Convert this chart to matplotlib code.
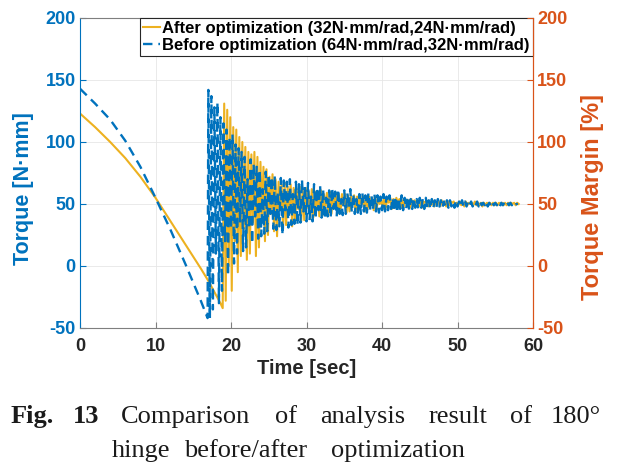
import numpy as np
import matplotlib
matplotlib.use("Agg")
import matplotlib.pyplot as plt

plt.rcParams.update({"font.family": "Liberation Sans", "font.weight": "bold",
                     "axes.unicode_minus": False})

C_BLUE = "#0072BD"; C_ORG = "#EDB120"; C_RED = "#D95319"; C_TXT = "#262626"
DT = 0.2  # sample spacing of the oscillating part [s]

# before optimization (64/32 N·mm/rad): slewing phase, then oscillation extrema
before_t = [0, 2, 4, 6, 8, 10, 12, 14, 16, 16.9]
before_v = [143, 131, 118, 101, 80, 55, 29, 1, -28, -42]
before_osc_t0 = 17.0
before_osc = [
    142, -42, 137, -35, 128, 10, 132, -30, 120, -20,
    115, 20, 110, -8, 104, 30, 106, 2, 98, 10,
    95, 35, 92, 12, 88, 15, 70, 30, 86, 18,
    82, 40, 80, 22, 78, 24, 62, 26, 76, 28,
    74, 42, 72, 30, 73, 29, 60, 32, 71, 25,
    69, 45, 68, 31, 70, 33, 58, 34, 68, 33,
    66, 35, 70, 44, 65, 36, 67, 37, 56, 36,
    66, 38, 63, 45, 65, 39, 62, 38, 55, 40,
    61, 39, 63, 46, 60, 40, 62, 42, 54, 41,
    61, 42, 59, 47, 62, 43, 58, 42, 54, 43,
    58, 42, 59, 44, 57, 43, 59, 44, 57, 45,
    58, 44, 57, 43, 56, 45, 58, 44, 56, 45,
    57, 46, 55, 44, 56, 43, 55, 46, 57, 45,
    55, 46, 56, 45, 54, 46, 55, 47, 54, 46,
    55, 47, 54, 46, 55, 47, 53, 46, 54, 47,
    53, 47, 54, 48, 53, 47, 52, 48, 53, 47,
    53, 48, 52, 47, 53, 48, 52, 48, 53, 48,
    52, 48, 52, 49, 52, 48, 51, 49, 52, 48,
    52, 49, 51, 49, 52, 48, 51, 49, 52, 49,
    51, 49, 51, 48, 51, 49, 51, 49, 51, 49,
    51, 49, 51, 49, 50, 50,
]

# after optimization (32/24 N·mm/rad)
after_t = [0, 2, 4, 6, 8, 10, 12, 14, 16, 17, 18.6]
after_v = [123, 112, 100, 87, 72, 55, 36, 17, -2, -12, -30]
after_osc_t0 = 18.9
after_osc = [
    -34, 131, -28, 126, 0, 120, -20, 112, 20, 110,
    -5, 104, 8, 100, 30, 96, 5, 92, 10, 90,
    35, 92, 8, 88, 15, 84, 40, 80, 20, 78,
    25, 72, 42, 74, 28, 70, 24, 68, 45, 66,
    30, 67, 33, 64, 46, 66, 32, 63, 35, 62,
    46, 64, 36, 61, 37, 63, 47, 60, 38, 62,
    39, 60, 48, 59, 40, 61, 41, 58, 48, 59,
    41, 60, 42, 58, 49, 59, 42, 57, 43, 58,
    49, 58, 43, 57, 44, 56, 50, 57, 44, 56,
    45, 57, 50, 56, 44, 55, 46, 56, 50, 55,
    45, 56, 46, 55, 50, 54, 46, 55, 47, 54,
    51, 55, 46, 54, 47, 55, 51, 54, 47, 53,
    48, 54, 51, 53, 47, 54, 48, 53, 51, 53,
    48, 53, 47, 52, 51, 53, 48, 52, 49, 53,
    48, 52, 51, 52, 48, 53, 49, 52, 48, 52,
    49, 52, 51, 52, 48, 51, 49, 52, 49, 51,
    48, 52, 49, 51, 50, 51, 49, 52, 49, 51,
    49, 51, 48, 51, 49, 51, 50, 51, 49, 51,
    49, 51, 49, 51, 50, 51, 49, 51, 49, 51,
    49, 51, 50, 51, 49, 51, 50,
]

yticks = [-50, 0, 50, 100, 150, 200]
xticks = [0, 10, 20, 30, 40, 50, 60]

def series(t, v, t0, osc):
    tt = np.concatenate([t, t0 + DT * np.arange(len(osc))])
    return tt, np.concatenate([v, osc])

ta, va = series(after_t, after_v, after_osc_t0, after_osc)
tb, vb = series(before_t, before_v, before_osc_t0, before_osc)

W, H = 622, 467
fig = plt.figure(figsize=(W / 100, H / 100), dpi=100)
ax = fig.add_axes([80 / W, 1 - 328 / H, 453 / W, 310 / H])

ax.plot(ta, va, color=C_ORG, lw=1.5, label="After optimization (32N·mm/rad,24N·mm/rad)")
ax.plot(tb, vb, color=C_BLUE, lw=1.7, ls=(0, (4, 2.5)),
        label="Before optimization (64N·mm/rad,32N·mm/rad)")

ax.set_xlim(0, 60); ax.set_ylim(-50, 200)
ax.set_xticks(xticks); ax.set_yticks(yticks)
ax.grid(True, color="#e6e6e6", lw=0.6)
ax.set_axisbelow(True)
ax.tick_params(axis="x", direction="in", length=4, colors="#7f7f7f", labelcolor=C_TXT,
               labelsize=13, pad=7)
ax.tick_params(axis="y", direction="in", length=4, colors=C_BLUE, labelsize=13, pad=3)
for lab in ax.get_xticklabels() + ax.get_yticklabels():
    lab.set_fontweight("bold")
ax.spines["left"].set_color(C_BLUE)
ax.spines["right"].set_color(C_RED)
ax.spines["top"].set_color("#7f7f7f")
ax.spines["bottom"].set_color("#7f7f7f")
for s in ax.spines.values():
    s.set_linewidth(0.8)

ax2 = ax.twinx()
ax2.set_ylim(-50, 200); ax2.set_yticks(yticks)
ax2.tick_params(axis="y", direction="in", length=4, colors=C_RED, labelsize=13, pad=3)
for lab in ax2.get_yticklabels():
    lab.set_fontweight("bold")
for s in ["left", "top", "bottom"]:
    ax2.spines[s].set_visible(False)
ax2.spines["right"].set_color(C_RED)
ax2.spines["right"].set_linewidth(0.8)

ax.set_xlabel("Time [sec]", fontsize=14.5, fontweight="bold", color=C_TXT, labelpad=3)
fig.text(24 / W, 1 - 189 / H, "Torque [N·mm]", rotation=90, ha="center", va="center",
         fontsize=15.5, fontweight="bold", color=C_BLUE)
fig.text(592 / W, 1 - 197 / H, "Torque Margin [%]", rotation=90, ha="center", va="center",
         fontsize=17, fontweight="bold", color=C_RED)

leg = ax.legend(loc="upper right", bbox_to_anchor=(1.0, 1.0),
                prop={"weight": "bold", "size": 12}, handlelength=1.0, handletextpad=0.15,
                borderpad=0.2, labelspacing=0.1, borderaxespad=0, fancybox=False,
                framealpha=1, edgecolor="#262626")
leg.get_frame().set_linewidth(0.8)

# caption (word centres, justified layout)
cap = dict(fontfamily="Liberation Serif", fontsize=19, color="#1a1a1a",
           va="baseline", ha="center")
words1 = [("Fig.", 32, "bold"), ("13", 86, "bold"), ("Comparison", 186, "normal"),
          ("of", 286, "normal"), ("analysis", 363, "normal"), ("result", 458, "normal"),
          ("of", 521, "normal"), ("180°", 576, "normal")]
for w, x, fw in words1:
    fig.text(x / W, 1 - 423 / H, w, fontweight=fw, **cap)
words2 = [("hinge", 141), ("before/after", 246), ("optimization", 398)]
for w, x in words2:
    fig.text(x / W, 1 - 457 / H, w, fontweight="normal", **cap)

fig.savefig("out.png", dpi=100)
